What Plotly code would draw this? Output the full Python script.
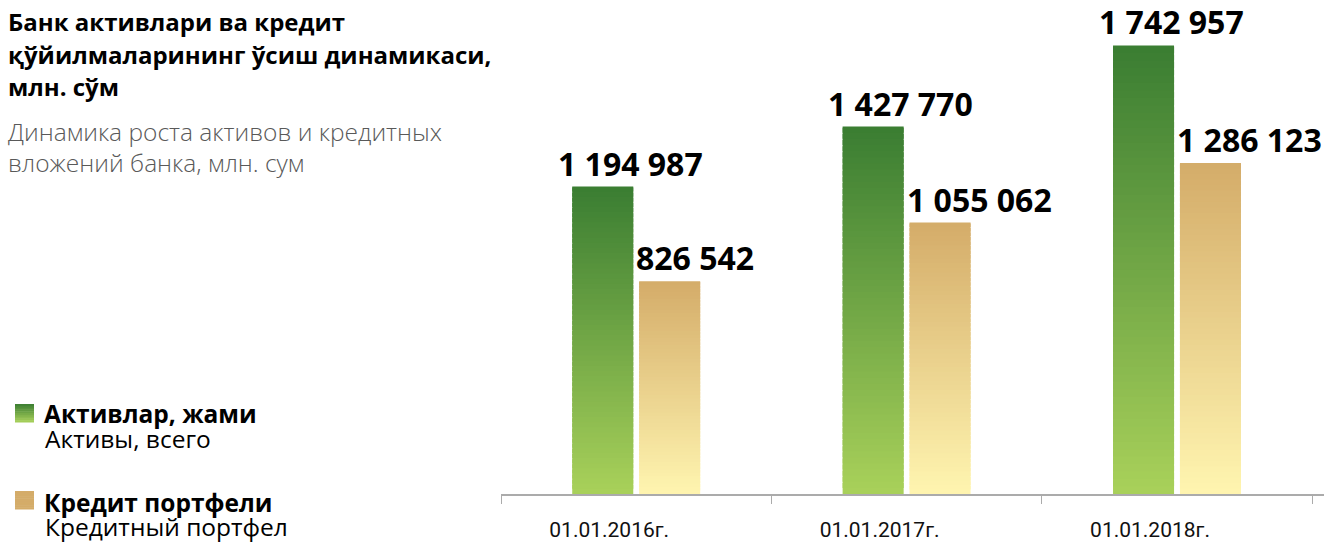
import plotly.graph_objects as go

# ---------------- data ----------------
categories = ["01.01.2016г.", "01.01.2017г.", "01.01.2018г."]
assets = [1194987, 1427770, 1742957]          # Активлар, жами / Активы, всего
loans = [826542, 1055062, 1286123]            # Кредит портфели / Кредитный портфел

title_lines = ["Банк активлари ва кредит",
               "қўйилмаларининг ўсиш динамикаси,",
               "млн. сўм"]
subtitle_lines = ["Динамика роста активов и кредитных",
                  "вложений банка, млн. сум"]
legend_bold = ["Активлар, жами", "Кредит портфели"]
legend_reg = ["Активы, всего", "Кредитный портфел"]

# ---------------- style ----------------
W_PX, H_PX = 1333, 545
L, R, T, B = 501, 9, 20, 51
PW, PH = W_PX - L - R, H_PX - T - B
YMAX = 1842000

GREEN_TOP, GREEN_BOT = (58, 125, 50), (169, 209, 90)
TAN_TOP, TAN_BOT = (212, 172, 105), (255, 245, 176)
BOLD = "Open Sans"
REG = "Open Sans"


def lerp(c1, c2, t):
    return "#%02x%02x%02x" % tuple(round(a + (b - a) * t) for a, b in zip(c1, c2))


def fmt(v):
    return f"{v:,}".replace(",", " ")


def px(x):
    return (x - L) / PW


def py(y):
    return 1 - (y - T) / PH


fig = go.Figure()

N = 60
for vals, top, bot, grp in [(assets, GREEN_TOP, GREEN_BOT, "a"), (loans, TAN_TOP, TAN_BOT, "b")]:
    for i in range(N):
        t = (i + 0.5) / N  # fraction of height from bottom
        col = lerp(bot, top, t)
        h = min(1.8, N - i) / N
        fig.add_trace(go.Bar(
            x=categories,
            y=[v * h for v in vals],
            base=[v * i / N for v in vals],
            offsetgroup=grp,
            marker=dict(color=col, line=dict(width=0)),
            showlegend=False,
            hoverinfo="skip",
        ))

annotations = []
# value labels
for c, v in zip(categories, assets):
    annotations.append(dict(x=c, y=v, xref="x", yref="y", text=fmt(v), showarrow=False,
                            xanchor="center", yanchor="bottom", xshift=-6, yshift=0,
                            font=dict(family=BOLD, size=32, color="#000000", weight="bold")))
for c, v in zip(categories, loans):
    annotations.append(dict(x=c, y=v, xref="x", yref="y", text=fmt(v), showarrow=False,
                            xanchor="left", yanchor="bottom", xshift=-2, yshift=0,
                            font=dict(family=BOLD, size=32, color="#000000", weight="bold")))

# title
for k, line in enumerate(title_lines):
    annotations.append(dict(x=px(6), y=py(40.5 + 32.5 * k), xref="paper", yref="paper", text=line,
                            showarrow=False, xanchor="left", yanchor="bottom",
                            font=dict(family=BOLD, size=24, color="#000000", weight="bold")))
for k, line in enumerate(subtitle_lines):
    annotations.append(dict(x=px(6), y=py(150 + 31 * k), xref="paper", yref="paper", text=line,
                            showarrow=False, xanchor="left", yanchor="bottom",
                            font=dict(family=REG, size=24.5, color="#595959", weight=300)))

# legend
shapes = []
leg_y = [404, 491]
leg_cols = [(GREEN_TOP, GREEN_BOT), (TAN_TOP, TAN_TOP)]
bold_base = [424, 513]
reg_base = [451, 539]
for k in range(2):
    y0 = leg_y[k]
    top, bot = leg_cols[k]
    S = 10
    for j in range(S):
        shapes.append(dict(type="rect", xref="paper", yref="paper",
                           x0=px(15), x1=px(34),
                           y0=py(y0 + 18 * j / S), y1=py(y0 + 18 * (j + 1) / S + 0.5),
                           line=dict(width=0), fillcolor=lerp(top, bot, (j + 0.5) / S),
                           layer="above"))
    annotations.append(dict(x=px(42), y=py(bold_base[k] + 7.6), xref="paper", yref="paper",
                            text=legend_bold[k], showarrow=False, xanchor="left", yanchor="bottom",
                            font=dict(family=BOLD, size=24.5, color="#000000", weight="bold")))
    annotations.append(dict(x=px(43), y=py(reg_base[k] + 6), xref="paper", yref="paper",
                            text=legend_reg[k], showarrow=False, xanchor="left", yanchor="bottom",
                            font=dict(family=REG, size=24.5, color="#000000")))

fig.update_layout(
    width=W_PX, height=H_PX,
    margin=dict(l=L, r=R, t=T, b=B, pad=0),
    paper_bgcolor="white", plot_bgcolor="white",
    barmode="group", bargap=0.505, bargroupgap=0.088,
    showlegend=False,
    annotations=annotations,
    shapes=shapes,
    xaxis=dict(showline=True, linecolor="#ababab", linewidth=2, automargin=False,
               ticks="outside", tickson="boundaries", ticklen=8, tickcolor="#ababab", tickwidth=1,
               showgrid=False, zeroline=False,
               tickfont=dict(family="Roboto, sans-serif", size=21, color="#111111"),
               ticklabelshift=-27, ticklabelstandoff=16),
    yaxis=dict(range=[0, YMAX], visible=False, showgrid=False, zeroline=False, automargin=False),
)

fig.write_html("out.html", config={"displayModeBar": False},
               post_script="document.body.style.margin='0';document.body.style.overflow='hidden';")
